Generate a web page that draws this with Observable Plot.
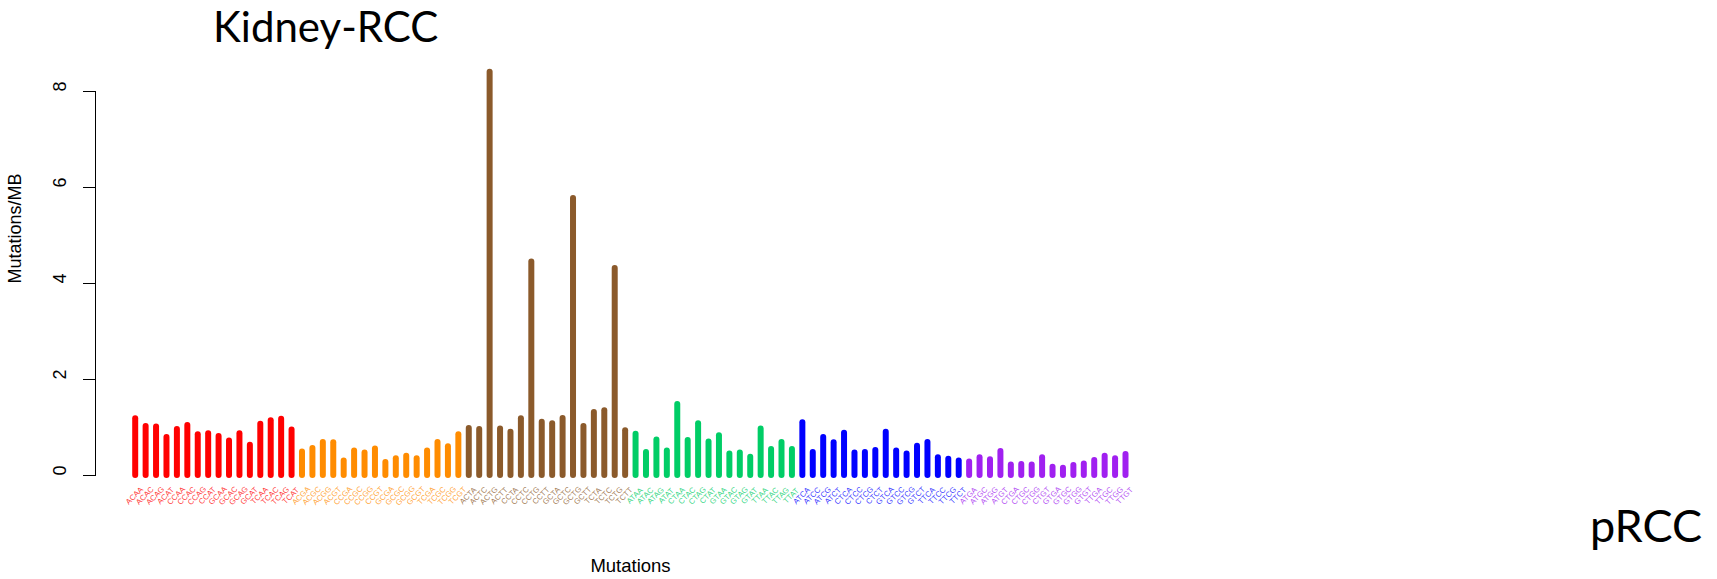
<!DOCTYPE html>
<html>
<head>
<meta charset="utf-8">
<script src="https://cdn.jsdelivr.net/npm/d3@7"></script>
<script src="https://cdn.jsdelivr.net/npm/@observablehq/plot@0.6"></script>
<style>
  html, body { margin: 0; padding: 0; background: #fff; }
  #wrap { position: relative; width: 1717px; height: 579px; overflow: hidden; }
  .big { position: absolute; font-family: Lato, "Open Sans", sans-serif; line-height: 1; color: #000; white-space: nowrap; }
  #title { left: 213px; top: 5px; font-size: 42px; }
  #tag { left: 1590px; top: 503px; font-size: 45px; }
</style>
</head>
<body>
<div id="wrap">
  <div id="chart"></div>
  <div id="title" class="big">Kidney-RCC</div>
  <div id="tag" class="big">pRCC</div>
</div>
<script>
// 5' and 3' flanking bases, substitution classes and their colours
const flank = ["A", "C", "G", "T"];
const substitutions = ["CA", "CG", "CT", "TA", "TC", "TG"];
const colours = ["#FF0000", "#FF8C00", "#8B5A2B", "#00CD66", "#0000FF", "#A020F0"];
const yTicks = [0, 2, 4, 6, 8];

// Mutations per MB for each trinucleotide context, 16 per substitution class
const valuesCA = [1.18, 1.02, 1.01, 0.79, 0.96, 1.04, 0.85, 0.87, 0.81, 0.72, 0.87, 0.63, 1.07, 1.14, 1.17, 0.95];
const valuesCG = [0.49, 0.56, 0.69, 0.68, 0.30, 0.51, 0.47, 0.55, 0.27, 0.35, 0.40, 0.35, 0.51, 0.69, 0.60, 0.85];
const valuesCT = [0.98, 0.96, 8.40, 0.97, 0.90, 1.18, 4.45, 1.11, 1.08, 1.19, 5.77, 1.02, 1.31, 1.35, 4.31, 0.93];
const valuesTA = [0.86, 0.48, 0.74, 0.51, 1.48, 0.73, 1.08, 0.70, 0.83, 0.45, 0.47, 0.38, 0.97, 0.54, 0.69, 0.54];
const valuesTC = [1.10, 0.48, 0.79, 0.68, 0.88, 0.47, 0.48, 0.52, 0.90, 0.51, 0.45, 0.61, 0.69, 0.37, 0.34, 0.30];
const valuesTG = [0.28, 0.37, 0.33, 0.50, 0.22, 0.23, 0.22, 0.37, 0.17, 0.15, 0.21, 0.24, 0.31, 0.40, 0.35, 0.44];
const seriesValues = [valuesCA, valuesCG, valuesCT, valuesTA, valuesTC, valuesTG];

// One record per context: label is 5' base + substitution + 3' base
const groups = substitutions.map((sub, g) => {
  const rows = [];
  let i = 0;
  for (const b5 of flank) for (const b3 of flank) {
    rows.push({label: b5 + sub + b3, value: seriesValues[g][i++]});
  }
  return {sub, colour: colours[g], rows};
});
const allLabels = groups.flatMap(d => d.rows.map(r => r.label));

const W = 1717, H = 579;
const marks = [];
for (const grp of groups) {
  marks.push(Plot.ruleX(grp.rows, {
    x: "label", y1: 0, y2: "value",
    stroke: grp.colour, strokeWidth: 6, strokeLinecap: "round"
  }));
  marks.push(Plot.text(grp.rows, {
    x: "label", frameAnchor: "bottom", dy: 22, dx: 1,
    text: "label", rotate: -45, fill: grp.colour, fillOpacity: 0.75,
    fontSize: 7.8, fontFamily: "Liberation Sans, Arial, sans-serif"
  }));
}

const chart = Plot.plot({
  width: W,
  height: H,
  marginLeft: 95,
  marginRight: 552,
  marginTop: 91,
  marginBottom: 104,
  style: {background: "#fff", fontFamily: "Liberation Sans, Arial, sans-serif"},
  x: {type: "point", domain: allLabels, range: [134.7, 1125], padding: 0, axis: null},
  y: {domain: [0, 8], axis: null},
  marks: [
    Plot.frame({anchor: "left", stroke: "#000", strokeWidth: 1}),
    Plot.axisY(yTicks, {tickSize: 12, tickFormat: () => "", label: null, stroke: "#000"}),
    Plot.text(yTicks, {
      y: d => d, frameAnchor: "left", dx: -35, text: d => String(d),
      rotate: -90, fontSize: 18, fill: "#000"
    }),
    Plot.text(["Mutations/MB"], {
      frameAnchor: "left", dx: -80, dy: 0, text: d => d,
      rotate: -90, fontSize: 18, fill: "#000"
    }),
    Plot.text(["Mutations"], {
      frameAnchor: "bottom", dy: 96, text: d => d,
      fontSize: 18.5, fill: "#000"
    }),
    ...marks
  ]
});
document.getElementById("chart").append(chart);
</script>
</body>
</html>
